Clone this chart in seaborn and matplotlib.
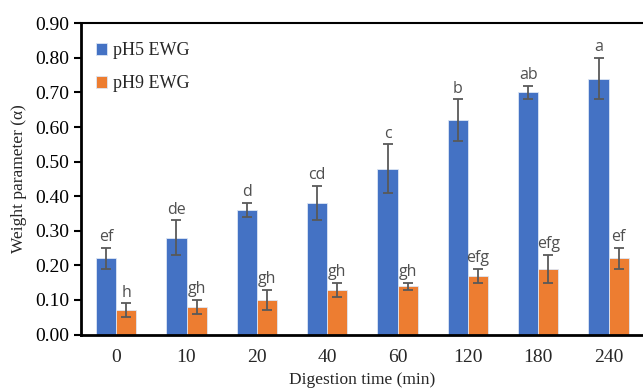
import numpy as np
import pandas as pd
import matplotlib
matplotlib.use('Agg')
import matplotlib.pyplot as plt
import seaborn as sns

# data
times = ['0', '10', '20', '40', '60', '120', '180', '240']
ph5_mean = [0.22, 0.28, 0.36, 0.38, 0.48, 0.62, 0.70, 0.74]
ph5_err = [0.03, 0.05, 0.02, 0.05, 0.07, 0.06, 0.02, 0.06]
ph5_letters = ['ef', 'de', 'd', 'cd', 'c', 'b', 'ab', 'a']
ph9_mean = [0.07, 0.08, 0.10, 0.13, 0.14, 0.17, 0.19, 0.22]
ph9_err = [0.02, 0.02, 0.03, 0.02, 0.01, 0.02, 0.04, 0.03]
ph9_letters = ['h', 'gh', 'gh', 'gh', 'gh', 'efg', 'efg', 'ef']
series = ['pH5 EWG', 'pH9 EWG']
colors = ['#4472C4', '#ED7D31']

df = pd.DataFrame({
    'time': times * 2,
    'value': ph5_mean + ph9_mean,
    'group': [series[0]] * len(times) + [series[1]] * len(times),
})

sns.set_style('white')
plt.rcParams['font.family'] = ['Liberation Serif', 'DejaVu Serif']

fig = plt.figure(figsize=(6.43, 3.89), dpi=100)
ax = fig.add_axes([0.126, 0.140, 0.874, 0.800])

sns.barplot(data=df, x='time', y='value', hue='group', order=times,
            hue_order=series, palette=colors, width=0.57, errorbar=None,
            edgecolor='#dce6f5', linewidth=0.6, saturation=1, ax=ax)

# error bars + significance letters
for cont, means, errs, letters in zip(ax.containers, [ph5_mean, ph9_mean],
                                      [ph5_err, ph9_err], [ph5_letters, ph9_letters]):
    xs = [p.get_x() + p.get_width() / 2 for p in cont.patches]
    ax.errorbar(xs, means, yerr=errs, fmt='none', ecolor='#595959',
                elinewidth=1.3, capsize=3.5, capthick=1.3)
    for x, m, e, t in zip(xs, means, errs, letters):
        ax.annotate(t, (x, m + e), xytext=(0, 2), textcoords='offset points',
                    ha='center', va='bottom', fontsize=11.5, color='#505050',
                    family=['Open Sans', 'DejaVu Sans'])

ax.set_ylim(0, 0.90)
ax.set_xlim(-0.5, 7.49)
ax.set_yticks(np.arange(0, 0.91, 0.1))
ax.set_yticklabels([f'{v:.2f}' for v in np.arange(0, 0.91, 0.1)])
ax.tick_params(axis='y', which='both', left=True, length=5, width=1.5,
               labelsize=14, colors='black', direction='out')
ax.tick_params(axis='x', bottom=False, labelsize=14, pad=7)

ax.set_xlabel('Digestion time (min)', fontsize=12.5, labelpad=4)
ax.set_ylabel('Weight parameter (α)', fontsize=12.5, labelpad=6)

for s in ['left', 'bottom']:
    ax.spines[s].set_linewidth(2)
    ax.spines[s].set_color('black')
ax.spines['top'].set_linewidth(1.5)
ax.spines['top'].set_color('black')
ax.spines['right'].set_visible(False)

ax.legend(loc='upper left', bbox_to_anchor=(0.005, 0.98), frameon=False,
          fontsize=13, handlelength=0.6, handleheight=0.6, handletextpad=0.3,
          labelspacing=0.9, borderaxespad=0.3)

fig.savefig('out.png', dpi=100)
